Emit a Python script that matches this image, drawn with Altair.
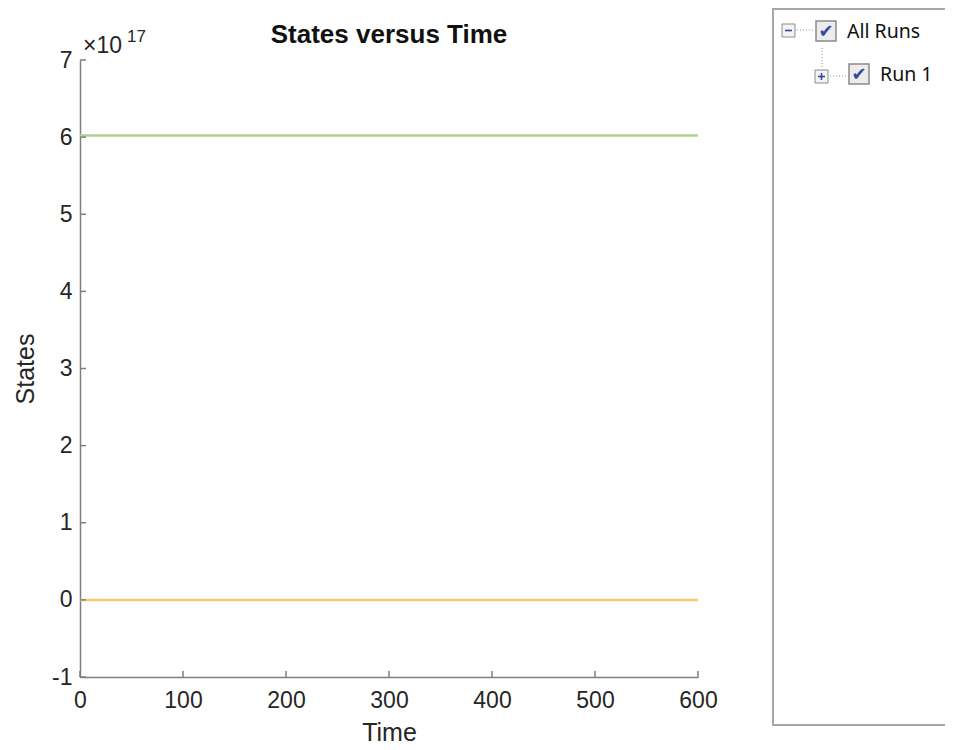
import altair as alt
import pandas as pd

# ---- data ----
time = [0, 600]
state_green = [6.022e17, 6.022e17]
state_orange = [0.0, 0.0]
series_names = ["State 1", "State 2"]
series_colors = ["#acd38f", "#f6cb6e"]
x_ticks = [0, 100, 200, 300, 400, 500, 600]
y_ticks = [-1e17, 0, 1e17, 2e17, 3e17, 4e17, 5e17, 6e17, 7e17]
title_text = "States versus Time"
x_title = "Time"
y_title = "States"
tree_labels = ["All Runs", "Run 1"]

df = pd.DataFrame({
    "Time": time + time,
    "Value": state_green + state_orange,
    "State": [series_names[0]] * len(time) + [series_names[1]] * len(time),
})
xt = pd.DataFrame({"t": x_ticks})
yt = pd.DataFrame({"v": y_ticks})
one = pd.DataFrame({"k": [0]})

W, H = 618, 617
FONT = "Liberation Sans"
AX = "#7f7f7f"
TXT = "#262626"

xs = alt.Scale(domain=[0, 600], nice=False, zero=False)
ys = alt.Scale(domain=[-1e17, 7e17], nice=False, zero=False)

x_axis = alt.Axis(
    values=x_ticks, title=x_title, ticks=False, tickSize=0, labelPadding=12,
    labelFontSize=23, labelFont=FONT, labelColor=TXT, titleFont=FONT,
    titleFontSize=25, titleFontWeight="normal", titleColor=TXT, titlePadding=8,
    domainColor=AX, domainWidth=1.5, grid=False, labelFlush=False)
y_axis = alt.Axis(
    values=y_ticks, title=y_title, ticks=False, tickSize=0, labelPadding=8,
    labelExpr="'' + round(datum.value / 1e17)",
    labelFontSize=23, labelFont=FONT, labelColor=TXT, titleFont=FONT,
    titleFontSize=25, titleFontWeight="normal", titleColor=TXT, titlePadding=13,
    domainColor=AX, domainWidth=1.5, grid=False, labelFlush=False)

lines = alt.Chart(df).mark_line(strokeWidth=2.5).encode(
    x=alt.X("Time:Q", scale=xs, axis=x_axis),
    y=alt.Y("Value:Q", scale=ys, axis=y_axis),
    color=alt.Color("State:N", scale=alt.Scale(domain=series_names, range=series_colors), legend=None),
    detail="State:N",
)

xtick_layer = alt.Chart(xt).mark_rule(color=AX, strokeWidth=1.5).encode(
    x=alt.X("t:Q", scale=xs, axis=x_axis), y=alt.value(H), y2=alt.value(H - 6))
ytick_layer = alt.Chart(yt).mark_rule(color=AX, strokeWidth=1.5).encode(
    y=alt.Y("v:Q", scale=ys, axis=y_axis), x=alt.value(0), x2=alt.value(6))


def box(x, x2, y, y2, **kw):
    return alt.Chart(one).mark_rect(**kw).encode(
        x=alt.value(x), x2=alt.value(x2), y=alt.value(y), y2=alt.value(y2))


def hrule(x, x2, y, **kw):
    return alt.Chart(one).mark_rule(**kw).encode(
        x=alt.value(x), x2=alt.value(x2), y=alt.value(y))


def vrule(x, y, y2, **kw):
    return alt.Chart(one).mark_rule(**kw).encode(
        x=alt.value(x), y=alt.value(y), y2=alt.value(y2))


def txt(s, x, y, **kw):
    return alt.Chart(one).mark_text(text=s, **kw).encode(x=alt.value(x), y=alt.value(y))


title = txt(title_text, 309, -17, font=FONT, fontSize=26, fontWeight="bold",
            color="#111111", align="center", baseline="alphabetic")
mult = txt("\u00d710", 3, -7, font=FONT, fontSize=23, color=TXT, align="left", baseline="alphabetic")
expo = txt("17", 47, -18, font=FONT, fontSize=17, color=TXT, align="left", baseline="alphabetic")

BLUE = "#34479c"
DOT = "#9a9a9a"
BORDER = "#a6a6a6"
panel = [
    vrule(693, -51, 665, color=BORDER, strokeWidth=2),
    hrule(692, 900, -51, color=BORDER, strokeWidth=2),
    hrule(692, 900, 665, color=BORDER, strokeWidth=2),
    # minus box
    box(702, 715, -36, -23, fill="#f3f3f3", stroke="#8c8c8c", strokeWidth=1),
    hrule(705, 712, -29.5, color=BLUE, strokeWidth=1.6),
    hrule(717, 733, -30, color=DOT, strokeWidth=1, strokeDash=[1, 2]),
    # checkbox 1
    box(736, 756, -39, -19, fill="#ececec", stroke="#8a8a8a", strokeWidth=1.5),
    txt("\u2714", 746, -28, font="DejaVu Sans", fontSize=18, color=BLUE, align="center", baseline="middle"),
    txt(tree_labels[0], 767, -28, font="Noto Sans", fontSize=19.5, color="#111111", align="left", baseline="middle"),
    # vertical dotted
    vrule(742, -12, 9, color=DOT, strokeWidth=1, strokeDash=[1, 2]),
    # plus box
    box(735, 748, 10, 23, fill="#f3f3f3", stroke="#8c8c8c", strokeWidth=1),
    hrule(738, 745, 16.5, color=BLUE, strokeWidth=1.6),
    vrule(741.5, 13, 20, color=BLUE, strokeWidth=1.6),
    hrule(750, 766, 16, color=DOT, strokeWidth=1, strokeDash=[1, 2]),
    # checkbox 2
    box(769, 789, 4, 24, fill="#ececec", stroke="#8a8a8a", strokeWidth=1.5),
    txt("\u2714", 779, 15, font="DejaVu Sans", fontSize=18, color=BLUE, align="center", baseline="middle"),
    txt(tree_labels[1], 800, 15, font="Noto Sans", fontSize=19.5, color="#111111", align="left", baseline="middle"),
]

chart = alt.layer(
    lines, xtick_layer, ytick_layer, title, mult, expo, *panel
).properties(
    width=W, height=H,
    autosize=alt.AutoSizeParams(type="none"),
    padding={"left": 72, "top": 52, "right": 247, "bottom": 68},
    background="white",
).configure_view(stroke=None)

chart.save("out.html", embed_options={"renderer": "svg", "actions": False})
